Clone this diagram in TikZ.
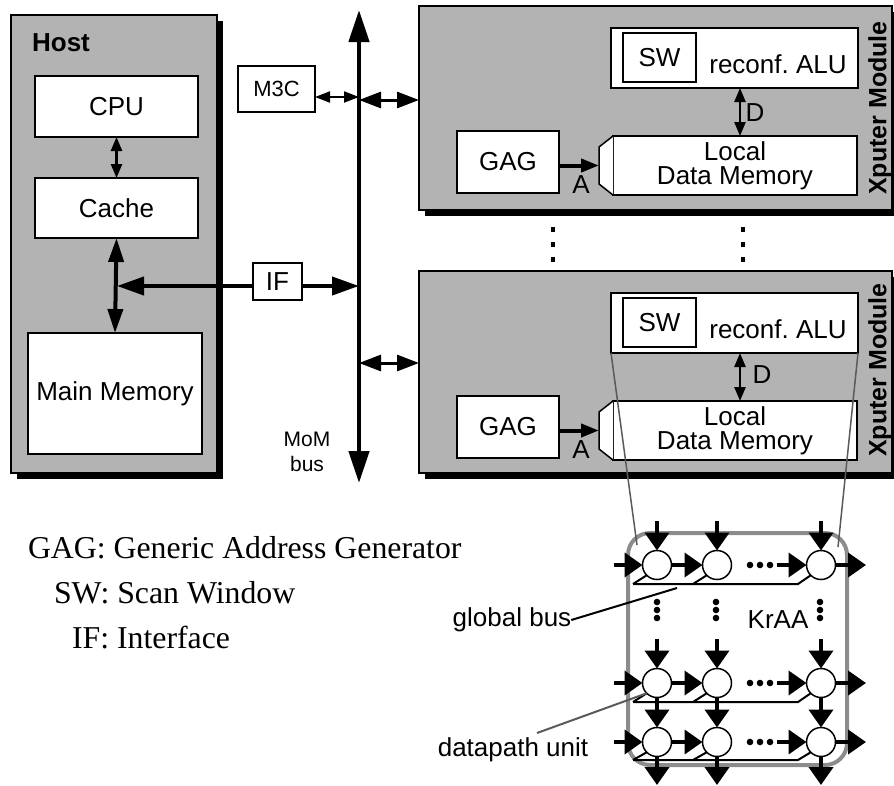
\documentclass[tikz,border=0pt]{standalone}
\usepackage{fontspec}
\setmainfont{Liberation Serif}
\setsansfont{Liberation Sans}
\usetikzlibrary{arrows.meta,shadows,calc}
\definecolor{panel}{HTML}{B3B3B3}
\definecolor{frame}{HTML}{8C8C8C}
\definecolor{lead}{HTML}{5A5A5A}
\frenchspacing
\begin{document}
\begin{tikzpicture}[x=1pt,y=-1pt,
  every node/.style={font=\sffamily\fontsize{26}{24}\selectfont, inner sep=0pt, outer sep=0pt},
  blk/.style={draw, fill=white, line width=1.5pt},
  panelbox/.style={draw, fill=panel, line width=1.5pt,
    drop shadow={shadow xshift=6pt, shadow yshift=-6pt, opacity=1, fill=black}},
  busline/.style={line width=4.5pt, {Triangle[length=32pt,width=20pt]}-{Triangle[length=32pt,width=20pt]}},
  thickarr/.style={line width=4pt, {Triangle[length=24pt,width=15pt]}-{Triangle[length=24pt,width=15pt]}},
  ifarr/.style={line width=4pt, {Triangle[length=27pt,width=18pt]}-{Triangle[length=27pt,width=18pt]}},
  modarr/.style={line width=3pt, {Triangle[length=22pt,width=16pt]}-{Triangle[length=22pt,width=16pt]}},
  smallarr/.style={line width=2.5pt, {Triangle[length=14pt,width=11pt]}-{Triangle[length=14pt,width=11pt]}},
  addrarr/.style={line width=4pt, -{Triangle[length=18pt,width=13pt]}},
  dataflow/.style={line width=4pt, arrows={-Triangle[length=18pt,width=24pt]}},
  dpu/.style={circle, draw, fill=white, line width=1.5pt, minimum size=29pt},
  gbus/.style={line width=2pt},
  legend/.style={font=\rmfamily\fontsize{31.8}{34}\selectfont, anchor=base west},
]
\useasboundingbox (0,0) rectangle (894,785);

% ---------------- Host ----------------
\node[panelbox, minimum width=206pt, minimum height=458pt] (host) at (114,244) {};
\node[font=\sffamily\bfseries\fontsize{26}{28}\selectfont] (hostlbl) at (61,43) {Host};
\node[blk, minimum width=163pt, minimum height=61pt] (cpu) at (116.5,106.5) {CPU};
\node[blk, minimum width=163pt, minimum height=60pt] (cache) at (116.5,208) {Cache};
\node[blk, minimum width=174pt, minimum height=121pt] (mm) at (115,393.5) {Main Memory};
\draw[smallarr] (cpu) -- (cache);
\draw[thickarr] (cache.south) -- (mm.north);

% ---------------- MoM bus ----------------
\coordinate (bustop) at (359,10);
\coordinate (busbot) at (359,483);
\draw[busline] (busbot) -- (bustop);
\node[align=center, font=\sffamily\fontsize{21}{25}\selectfont] (momlbl) at (307,452) {MoM\\bus};

\node[blk, minimum width=77pt, minimum height=46pt, font=\sffamily\fontsize{22}{24}\selectfont] (m3c) at (276.5,89) {M3C};
\coordinate (bm3) at (359,97);
\draw[line width=2pt, {Triangle[length=15pt,width=11pt]}-{Triangle[length=15pt,width=11pt]}] (m3c.east |- bm3) -- (bm3);

\coordinate (jn) at (117,286);
\coordinate (bif) at (359,286);
\draw[ifarr] (jn) -- (bif);
\node[blk, minimum width=49pt, minimum height=37pt] (if) at (277.5,281.5) {IF};

% ---------------- Xputer modules ----------------
\foreach \m/\my/\mh/\off/\ay in {1/108/204/0/100, 2/372/202/265/363}{
  \node[panelbox, minimum width=473pt, minimum height=\mh pt] (mod\m) at (655.5,\my) {};
  \node[font=\sffamily\bfseries\fontsize{25}{28}\selectfont, rotate=90] (xlbl\m) at (880,{108+\off-3*(\m-1)}) {Xputer Module};
  \coordinate (bm\m) at (359,\ay);
  \draw[modarr] (bm\m) -- (mod\m.west |- bm\m);
  \node[blk, minimum width=247pt, minimum height=60pt] (alu\m) at (734.5,{58+\off}) {};
  \node[blk, line width=2pt, minimum width=73pt, minimum height=49pt] (sw\m) at (659.5,{57.5+\off}) {SW};
  \node[anchor=base] (alut\m) at (778,{73+\off}) {reconf. ALU};
  \node[blk, minimum width=244pt, minimum height=59pt, align=center] (ldm\m) at (735,{165.5+\off}) {Local\\Data Memory};
  \draw[blk] (ldm\m.north west) -- ++(-14,11) -- ($(ldm\m.south west)+(-14,-11)$) -- (ldm\m.south west);
  \coordinate (fun\m) at ($(ldm\m.west)+(-14,0)$);
  \node[blk, minimum width=102pt, minimum height=62pt] (gag\m) at (508,{162+\off}) {GAG};
  \draw[addrarr] (gag\m.east |- fun\m) -- (fun\m);
  \node (albl\m) at (581,{185+\off}) {A};
  \draw[smallarr] (alu\m.south -| 740,0) -- (ldm\m.north -| 740,0);
  \node (dlbl\m) at ({755+7*(\m-1)},{113+\off-3*(\m-1)}) {D};
}

% continuation dots between the modules
\foreach \x in {553,743}{
  \foreach \y in {229,244,259}{
    \fill (\x-2,\y-2.5) rectangle (\x+2,\y+2.5);
  }
}

% ---------------- KrAA array ----------------
\node[draw=frame, line width=4pt, rounded corners=22pt, minimum width=219pt, minimum height=232pt] (kraa) at (737.5,649) {};
\node (kraalbl) at (778,620) {KrAA};

\foreach \r/\y in {1/565,2/683,3/742}{
  \foreach \c/\x in {1/657,2/717,3/821}{
    \node[dpu] (c\r\c) at (\x,\y) {};
  }
}
\foreach \r/\y/\by in {1/565/584,2/683/702,3/742/760}{
  % global bus of the row with taps to each unit
  \draw[gbus] (633,\by) -- (798,\by) -- (c\r3.south west);
  \draw[gbus] (633,\by) -- (c\r1.south west);
  \draw[gbus] (693,\by) -- (c\r2.south west);
  % horizontal data paths
  \coordinate (in\r) at (614,\y);
  \coordinate (pre\r) at (777,\y);
  \coordinate (out\r) at (866,\y);
  \draw[dataflow] (in\r) -- (c\r1.west);
  \draw[dataflow] (c\r1.east) -- (c\r2.west);
  \draw[dataflow] (pre\r) -- (c\r3.west);
  \draw[dataflow] (c\r3.east) -- (out\r);
  \foreach \dx in {750,760,770}{\fill (\dx,\y) circle (3.3);}
}
\foreach \c/\x in {1/657,2/717,3/821}{
  \coordinate (ta\c) at (\x,521);
  \coordinate (tb\c) at (\x,639);
  \coordinate (bo\c) at (\x,785);
  \draw[dataflow] (ta\c) -- (c1\c.north);
  \draw[dataflow] (tb\c) -- (c2\c.north);
  \draw[dataflow] (c2\c.south) -- (c3\c.north);
  \draw[dataflow] (c3\c.south) -- (bo\c);
}
\foreach \x in {657,716,820}{
  \foreach \y in {602,610,618}{\fill (\x,\y) circle (3.3);}
}

% window of the second module mapped onto the array
\draw[lead, line width=1.5pt] (alu2.south west) -- (637,545);
\draw[lead, line width=1.5pt] (alu2.south east) -- (838,547);

% labels with leader lines
\node (gblbl) at (512,620) {global bus};
\draw[line width=2pt] (gblbl.east) -- (677,588);
\node (dpulbl) at (513,750) {datapath unit};
\coordinate (dpuend) at (537,733);
\draw[lead, line width=2pt] (dpuend) -- (c21.south west);

% ---------------- legend ----------------
\node[legend] (lg1) at (28,558) {GAG: Generic Address Generator};
\node[legend] (lg2) at (54,603) {SW: Scan Window};
\node[legend] (lg3) at (72,648) {IF: Interface};
\end{tikzpicture}
\end{document}
